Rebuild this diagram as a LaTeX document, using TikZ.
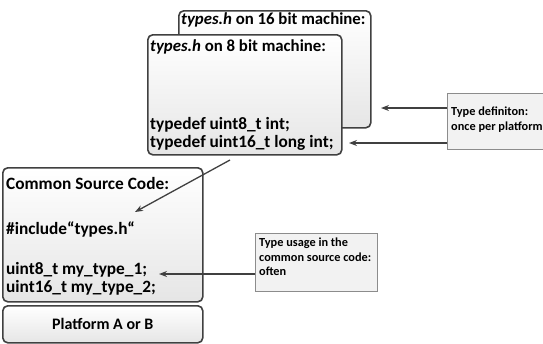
\documentclass[tikz,border=0pt]{standalone}
\usepackage{fontspec}
\setmainfont{Carlito}
\usetikzlibrary{arrows.meta}
\definecolor{edge}{HTML}{404040}
\definecolor{calloutfill}{HTML}{F2F2F2}
\definecolor{calloutedge}{HTML}{8C8C8C}
\tikzset{
  panel/.style={draw=edge, line width=1.6pt, rounded corners=5pt,
    top color=white, bottom color=black!10, anchor=north west, inner sep=0pt},
  callout/.style={draw=calloutedge, line width=0.6pt, fill=calloutfill,
    anchor=north west, inner sep=0pt},
  code/.style={anchor=west, inner sep=0pt, font=\fontsize{17.3}{20}\selectfont\bfseries},
  note/.style={anchor=west, inner sep=0pt, font=\fontsize{12.3}{14}\selectfont\bfseries},
  pointer/.style={draw=edge, line width=1.3pt, -{Stealth[length=8pt,width=6pt]}}
}
\begin{document}
\begin{tikzpicture}[x=1pt,y=-1pt]
\useasboundingbox (0,0) rectangle (543,343);

% header file for the 16 bit target (behind)
\node[panel, minimum width=192pt, minimum height=117pt] (h16) at (178,10) {};
\node[code, font=\fontsize{16.8}{20}\selectfont\bfseries] (t16) at (181,20) {\textit{types.h} on 16 bit machine:};

% header file for the 8 bit target (front)
\node[panel, minimum width=194pt, minimum height=120pt] (h8) at (147,34) {};
\node[code, font=\fontsize{16.8}{20}\selectfont\bfseries] (t8) at (150,47) {\textit{types.h} on 8 bit machine:};
\node[code] (d1) at (150,125) {typedef uint8\_t int;};
\node[code] (d2) at (150,143) {typedef uint16\_t long int;};

% common source code
\node[panel, minimum width=200pt, minimum height=134pt] (src) at (2,167) {};
\node[code] (s0) at (6,183) {Common Source Code:};
\node[code] (s1) at (6,229) {\#include“types.h“};
\node[code] (s2) at (6,270) {uint8\_t my\_type\_1;};
\node[code] (s3) at (6,288) {uint16\_t my\_type\_2;};

% platform
\node[panel, minimum width=200pt, minimum height=37pt] (plat) at (2,305) {};
\node[code, anchor=center, font=\fontsize{16}{20}\selectfont\bfseries] (pl) at (plat.center) {Platform A or B};

% callouts
\node[callout, minimum width=98pt, minimum height=56pt] (c1) at (447,93) {};
\node[note] (c1a) at (451,112) {Type definiton:};
\node[note] (c1b) at (451,127) {once per platform};

\node[callout, minimum width=122pt, minimum height=58pt] (c2) at (255,233) {};
\node[note] (c2a) at (259,243) {Type usage in the};
\node[note] (c2b) at (259,257) {common source code:};
\node[note] (c2c) at (259,271) {often};

% connector ends
\coordinate (e1) at (381,108);
\coordinate (e2) at (349,143);
\coordinate (e3) at (135,212);
\coordinate (e4) at (159,274);
\coordinate (s3a) at (230,160);

\draw[pointer] (c1.west |- e1) -- (e1);
\draw[pointer] (c1.west |- e2) -- (e2);
\draw[pointer] (s3a) -- (e3);
\draw[pointer] (c2.west |- e4) -- (e4);
\end{tikzpicture}
\end{document}
